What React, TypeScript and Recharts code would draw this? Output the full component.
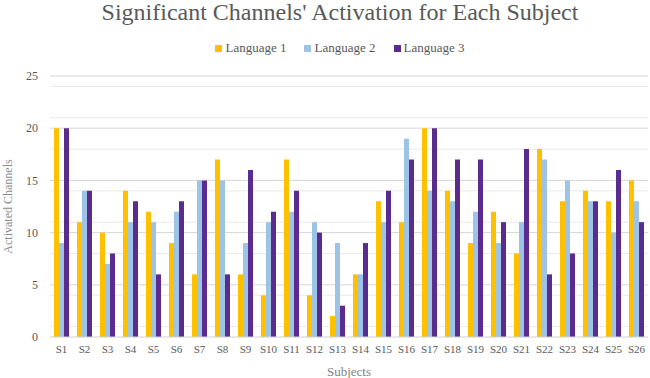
import React from "react";
import { BarChart, Bar, XAxis, YAxis, CartesianGrid, Label } from "recharts";

const subjects = ["S1","S2","S3","S4","S5","S6","S7","S8","S9","S10","S11","S12","S13","S14","S15","S16","S17","S18","S19","S20","S21","S22","S23","S24","S25","S26"];
const language1 = [20,11,10,14,12,9,6,17,6,4,17,4,2,6,13,11,20,14,9,12,8,18,13,14,13,15];
const language2 = [9,14,7,11,11,12,15,15,9,11,12,11,9,6,11,19,14,13,12,9,11,17,15,13,10,13];
const language3 = [20,14,8,13,6,13,15,6,16,12,14,10,3,9,14,17,20,17,17,11,18,6,8,13,16,11];
const yTicks = [0,5,10,15,20,25];
const minorValues = [1,2,3,4,6,7,8,9,11,12,13,14,16,17,18,19,21,22,23,24];
const majorValues = [5,10,15,20,25];

const seriesNames = ["Language 1", "Language 2", "Language 3"];
const colors = ["#FFC000", "#9DC3E6", "#5B2C8F"];

const data = subjects.map((s, i) => ({
  name: s,
  l1: language1[i],
  l2: language2[i],
  l3: language3[i],
}));

const FONT = "'Liberation Serif', 'Times New Roman', serif";

export default function App() {
  return (
    <div style={{ position: "absolute", left: 0, top: 0, width: 650, height: 378, background: "#fff", fontFamily: FONT }}>
      <div style={{ position: "absolute", left: 30, top: 0, width: 620, textAlign: "center", fontSize: 24, lineHeight: "24px", color: "#595959", whiteSpace: "nowrap" }}>
        Significant Channels' Activation for Each Subject
      </div>
      <div style={{ position: "absolute", left: 30, top: 39, width: 620, display: "flex", justifyContent: "center", fontSize: 13, lineHeight: "18px", color: "#595959" }}>
        {seriesNames.map((n, i) => (
          <div key={n} style={{ display: "flex", alignItems: "center", marginRight: i < 2 ? 18 : 0 }}>
            <span style={{ display: "inline-block", width: 7, height: 7, background: colors[i], marginRight: 3 }} />
            <span>{n}</span>
          </div>
        ))}
      </div>
      <BarChart
        width={650}
        height={378}
        data={data}
        margin={{ top: 76, right: 2, bottom: 0, left: 0 }}
        barGap={0}
        style={{ position: "absolute", left: 0, top: 0 }}
      >
        <CartesianGrid vertical={false} horizontalValues={minorValues} stroke="#e9e9e9" />
        <CartesianGrid vertical={false} horizontalValues={majorValues} stroke="#d6d6d6" />
        <XAxis
          dataKey="name"
          height={41}
          tickLine={false}
          axisLine={{ stroke: "#d0d0d0" }}
          interval={0}
          tick={{ fill: "#595959", fontSize: 11, fontFamily: FONT }}
        >
          <Label value="Subjects" position="insideBottom" offset={2} style={{ fill: "#7f7f7f", fontSize: 13, fontFamily: FONT }} />
        </XAxis>
        <YAxis
          width={50}
          domain={[0, 25]}
          ticks={yTicks}
          tickLine={false}
          axisLine={false}
          tickMargin={6}
          tick={{ fill: "#595959", fontSize: 12, fontFamily: FONT }}
        >
          <Label value="Activated Channels" angle={-90} position="insideLeft" offset={8} style={{ fill: "#8c8c8c", fontSize: 12, fontFamily: FONT, textAnchor: "middle" }} />
        </YAxis>
        <Bar dataKey="l1" name={seriesNames[0]} fill={colors[0]} barSize={5} isAnimationActive={false} />
        <Bar dataKey="l2" name={seriesNames[1]} fill={colors[1]} barSize={5} isAnimationActive={false} />
        <Bar dataKey="l3" name={seriesNames[2]} fill={colors[2]} barSize={5} isAnimationActive={false} />
      </BarChart>
    </div>
  );
}
